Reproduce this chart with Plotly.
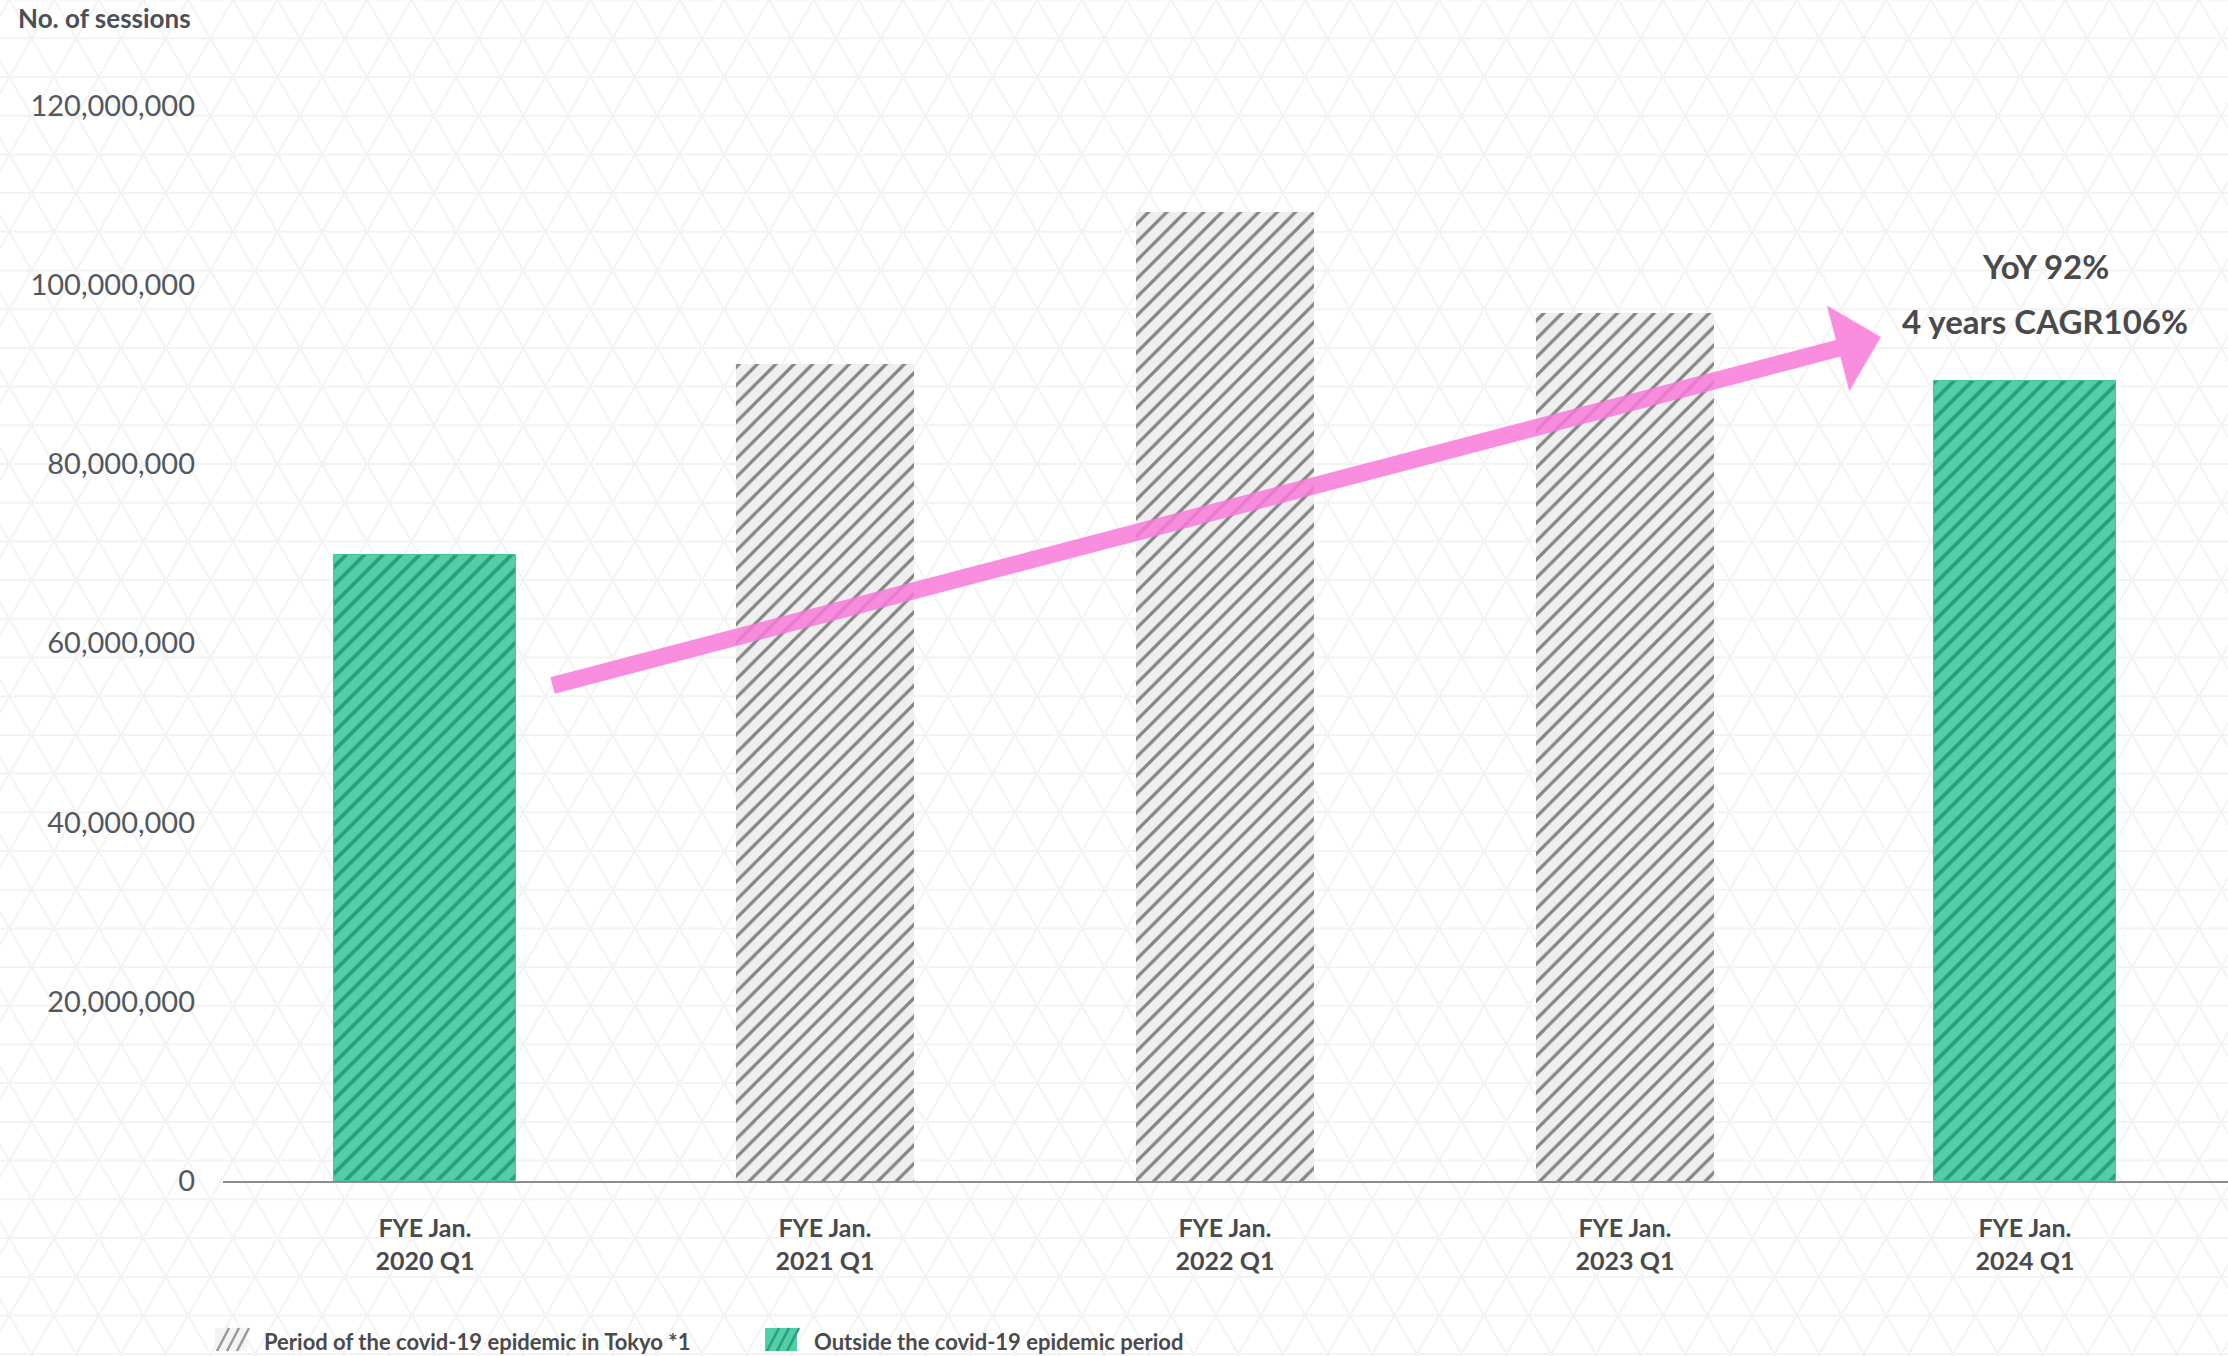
import math
import plotly.graph_objects as go

# ---- data -------------------------------------------------------------
periods = [
    "FYE Jan.<br>2020 Q1",
    "FYE Jan.<br>2021 Q1",
    "FYE Jan.<br>2022 Q1",
    "FYE Jan.<br>2023 Q1",
    "FYE Jan.<br>2024 Q1",
]
sessions = [69_800_000, 91_200_000, 108_100_000, 96_900_000, 89_300_000]
in_epidemic = [False, True, True, True, False]

epidemic_name = "Period of the covid-19 epidemic in Tokyo *1"
normal_name = "Outside the covid-19 epidemic period"

yoy_label = "YoY 92%"
cagr_label = "4 years CAGR106%"
y_title = "No. of sessions"

# trend arrow (category index, sessions)
arrow_start = (0.315, 55_250_000)
arrow_end = (3.64, 94_170_000)

# ---- page geometry ----------------------------------------------------
W, H = 2228, 1356
M_L, M_R, M_T, M_B = 223, 0, 16, 175
PW, PH = W - M_L - M_R, H - M_T - M_B


def px_to_paper(px, py):
    return (px - M_L) / PW, (H - M_B - py) / PH


FONT = "Lato, 'Open Sans', sans-serif"
TEXT = "#4a4a4a"

GRAY_BG, GRAY_FG = "#efefef", "#858585"
GREEN_BG, GREEN_FG = "#52cfa8", "#2a9f77"

fig = go.Figure()

gray_x = [p for p, e in zip(periods, in_epidemic) if e]
gray_y = [v for v, e in zip(sessions, in_epidemic) if e]
green_x = [p for p, e in zip(periods, in_epidemic) if not e]
green_y = [v for v, e in zip(sessions, in_epidemic) if not e]

fig.add_trace(go.Bar(
    x=gray_x, y=gray_y, name=epidemic_name, width=0.443,
    marker=dict(
        color=GRAY_BG,
        line=dict(width=0),
        pattern=dict(shape="/", size=13, solidity=0.25,
                     fgcolor=GRAY_FG, bgcolor=GRAY_BG, fillmode="replace"),
    ),
    showlegend=False,
    hoverinfo="skip",
))
fig.add_trace(go.Bar(
    x=green_x, y=green_y, name=normal_name, width=0.456,
    marker=dict(
        color=GREEN_BG,
        line=dict(width=1, color="#44c79c"),
        pattern=dict(shape="/", size=13, solidity=0.3,
                     fgcolor=GREEN_FG, bgcolor=GREEN_BG, fillmode="replace"),
    ),
    showlegend=False,
    hoverinfo="skip",
))

# ---- faint triangular lattice in the background -----------------------
shapes = []
row_h = 38.7
side = row_h * 2 / math.sqrt(3)
y0 = 38.3
x0 = 31.7
lat = dict(color="#f3f3f3", width=2)
k = -2
while y0 + k * row_h < H + row_h:
    yy = y0 + k * row_h
    xa, ya = px_to_paper(0, yy)
    xb, _ = px_to_paper(W, yy)
    shapes.append(dict(type="line", xref="paper", yref="paper", x0=xa, x1=xb,
                       y0=ya, y1=ya, line=lat, layer="below"))
    k += 1
span = H / math.sqrt(3)
c = x0 - math.ceil((span + side) / side) * side
while c < W + span + side:
    for sgn in (1, -1):
        xt = c + sgn * (0 - y0) / math.sqrt(3)
        xbm = c + sgn * (H - y0) / math.sqrt(3)
        pa = px_to_paper(xt, 0)
        pb = px_to_paper(xbm, H)
        shapes.append(dict(type="line", xref="paper", yref="paper",
                           x0=pa[0], y0=pa[1], x1=pb[0], y1=pb[1],
                           line=lat, layer="below"))
    c += side

# ---- legend: hatched swatches with labels -----------------------------
legend_font = dict(family=FONT, size=22, color=TEXT, weight="bold")
annotations = []


def add_legend_item(x_left, label, bg, fg):
    top, bottom = 1328, 1351
    a = px_to_paper(x_left, top)
    b = px_to_paper(x_left + 32, bottom)
    shapes.append(dict(type="rect", xref="paper", yref="paper",
                       x0=a[0], y0=b[1], x1=b[0], y1=a[1],
                       fillcolor=bg, line=dict(width=0), layer="above"))
    for i in range(3):
        p0 = px_to_paper(x_left + 2 + 10 * i, bottom)
        p1 = px_to_paper(x_left + 14 + 10 * i, top)
        shapes.append(dict(type="line", xref="paper", yref="paper",
                           x0=p0[0], y0=p0[1], x1=p1[0], y1=p1[1],
                           line=dict(color=fg, width=2.5), layer="above"))
    t = px_to_paper(x_left + 47, 1341)
    annotations.append(dict(x=t[0], y=t[1], xref="paper", yref="paper",
                            text=label, showarrow=False, xanchor="left",
                            yanchor="middle", font=legend_font))


add_legend_item(215, epidemic_name, "#f4f4f4", "#9a9a9a")
add_legend_item(765, normal_name, GREEN_BG, GREEN_FG)

# ---- annotations ------------------------------------------------------
annotations += [
    dict(x=arrow_end[0], y=arrow_end[1], xref="x", yref="y",
         ax=arrow_start[0], ay=arrow_start[1], axref="x", ayref="y",
         text="", showarrow=True, arrowhead=1, arrowsize=0.87, arrowwidth=17,
         arrowcolor="rgba(248,122,218,0.85)", standoff=0, startstandoff=0),
    dict(x=4.05, y=102_100_000, xref="x", yref="y", text=yoy_label,
         showarrow=False, xanchor="center", yanchor="middle",
         font=dict(family=FONT, size=33, color=TEXT, weight="bold")),
    dict(x=4.05, y=96_000_000, xref="x", yref="y", text=cagr_label,
         showarrow=False, xanchor="center", yanchor="middle",
         font=dict(family=FONT, size=33, color=TEXT, weight="bold")),
]
tx, ty = px_to_paper(16, 18)
annotations.append(dict(x=tx, y=ty, xref="paper", yref="paper", text=y_title,
                        showarrow=False, xanchor="left", yanchor="middle",
                        font=dict(family=FONT, size=26, color="#4b4f56", weight="bold")))

fig.update_layout(
    width=W, height=H,
    margin=dict(l=M_L, r=M_R, t=M_T, b=M_B, pad=0),
    paper_bgcolor="white", plot_bgcolor="rgba(0,0,0,0)",
    barmode="overlay",
    bargap=0,
    shapes=shapes,
    annotations=annotations,
    showlegend=False,
    xaxis=dict(
        type="category", categoryorder="array", categoryarray=periods,
        range=[-0.505, 4.5075], showgrid=False, zeroline=False,
        showline=True, linecolor="#8c8c8c", linewidth=2,
        ticks="", ticklabelstandoff=24,
        tickfont=dict(family=FONT, size=25, color=TEXT, weight="bold"),
        fixedrange=True,
    ),
    yaxis=dict(
        range=[0, 130_000_000], tickvals=[0, 20e6, 40e6, 60e6, 80e6, 100e6, 120e6],
        tickformat=",d", showgrid=False, zeroline=False, showline=False,
        ticks="", ticklabelstandoff=27,
        tickfont=dict(family=FONT, size=29, color="#53585f"),
        fixedrange=True,
    ),
)

fig.write_html("out.html")
